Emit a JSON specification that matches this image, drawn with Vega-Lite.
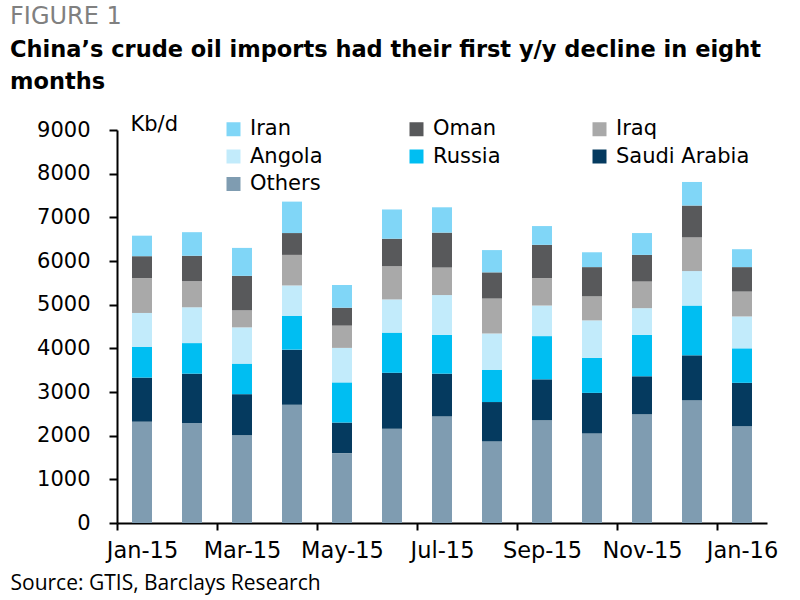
{
  "$schema": "https://vega.github.io/schema/vega-lite/v6.json",
  "width": 650,
  "height": 393,
  "autosize": {"type": "none"},
  "padding": {"left": 117, "top": 130, "right": 33, "bottom": 77},
  "background": "white",
  "config": {"view": {"stroke": null}},
  "title": {
    "text": "FIGURE 1",
    "subtitle": ["China’s crude oil imports had their first y/y decline in eight", "months"],
    "anchor": "start",
    "frame": "group",
    "dx": -107,
    "dy": -10,
    "offset": 10,
    "font": "DejaVu Sans",
    "fontSize": 24,
    "fontWeight": "normal",
    "color": "#808080",
    "subtitleFont": "DejaVu Sans",
    "subtitleFontSize": 22.5,
    "subtitleFontWeight": "bold",
    "subtitleColor": "#000000",
    "subtitleLineHeight": 32,
    "subtitlePadding": 10
  },
  "data": {
    "values": [
      {"month": "Jan-15", "country": "Others", "value": 2320},
      {"month": "Jan-15", "country": "Saudi Arabia", "value": 1010},
      {"month": "Jan-15", "country": "Russia", "value": 700},
      {"month": "Jan-15", "country": "Angola", "value": 780},
      {"month": "Jan-15", "country": "Iraq", "value": 800},
      {"month": "Jan-15", "country": "Oman", "value": 500},
      {"month": "Jan-15", "country": "Iran", "value": 470},
      {"month": "Feb-15", "country": "Others", "value": 2290},
      {"month": "Feb-15", "country": "Saudi Arabia", "value": 1130},
      {"month": "Feb-15", "country": "Russia", "value": 700},
      {"month": "Feb-15", "country": "Angola", "value": 820},
      {"month": "Feb-15", "country": "Iraq", "value": 600},
      {"month": "Feb-15", "country": "Oman", "value": 580},
      {"month": "Feb-15", "country": "Iran", "value": 540},
      {"month": "Mar-15", "country": "Others", "value": 2010},
      {"month": "Mar-15", "country": "Saudi Arabia", "value": 940},
      {"month": "Mar-15", "country": "Russia", "value": 700},
      {"month": "Mar-15", "country": "Angola", "value": 830},
      {"month": "Mar-15", "country": "Iraq", "value": 390},
      {"month": "Mar-15", "country": "Oman", "value": 790},
      {"month": "Mar-15", "country": "Iran", "value": 640},
      {"month": "Apr-15", "country": "Others", "value": 2710},
      {"month": "Apr-15", "country": "Saudi Arabia", "value": 1260},
      {"month": "Apr-15", "country": "Russia", "value": 770},
      {"month": "Apr-15", "country": "Angola", "value": 700},
      {"month": "Apr-15", "country": "Iraq", "value": 700},
      {"month": "Apr-15", "country": "Oman", "value": 500},
      {"month": "Apr-15", "country": "Iran", "value": 720},
      {"month": "May-15", "country": "Others", "value": 1600},
      {"month": "May-15", "country": "Saudi Arabia", "value": 700},
      {"month": "May-15", "country": "Russia", "value": 920},
      {"month": "May-15", "country": "Angola", "value": 790},
      {"month": "May-15", "country": "Iraq", "value": 510},
      {"month": "May-15", "country": "Oman", "value": 410},
      {"month": "May-15", "country": "Iran", "value": 520},
      {"month": "Jun-15", "country": "Others", "value": 2160},
      {"month": "Jun-15", "country": "Saudi Arabia", "value": 1280},
      {"month": "Jun-15", "country": "Russia", "value": 920},
      {"month": "Jun-15", "country": "Angola", "value": 760},
      {"month": "Jun-15", "country": "Iraq", "value": 760},
      {"month": "Jun-15", "country": "Oman", "value": 630},
      {"month": "Jun-15", "country": "Iran", "value": 670},
      {"month": "Jul-15", "country": "Others", "value": 2440},
      {"month": "Jul-15", "country": "Saudi Arabia", "value": 980},
      {"month": "Jul-15", "country": "Russia", "value": 890},
      {"month": "Jul-15", "country": "Angola", "value": 910},
      {"month": "Jul-15", "country": "Iraq", "value": 630},
      {"month": "Jul-15", "country": "Oman", "value": 800},
      {"month": "Jul-15", "country": "Iran", "value": 580},
      {"month": "Aug-15", "country": "Others", "value": 1870},
      {"month": "Aug-15", "country": "Saudi Arabia", "value": 900},
      {"month": "Aug-15", "country": "Russia", "value": 740},
      {"month": "Aug-15", "country": "Angola", "value": 830},
      {"month": "Aug-15", "country": "Iraq", "value": 800},
      {"month": "Aug-15", "country": "Oman", "value": 600},
      {"month": "Aug-15", "country": "Iran", "value": 510},
      {"month": "Sep-15", "country": "Others", "value": 2350},
      {"month": "Sep-15", "country": "Saudi Arabia", "value": 940},
      {"month": "Sep-15", "country": "Russia", "value": 990},
      {"month": "Sep-15", "country": "Angola", "value": 700},
      {"month": "Sep-15", "country": "Iraq", "value": 630},
      {"month": "Sep-15", "country": "Oman", "value": 760},
      {"month": "Sep-15", "country": "Iran", "value": 430},
      {"month": "Oct-15", "country": "Others", "value": 2050},
      {"month": "Oct-15", "country": "Saudi Arabia", "value": 930},
      {"month": "Oct-15", "country": "Russia", "value": 800},
      {"month": "Oct-15", "country": "Angola", "value": 860},
      {"month": "Oct-15", "country": "Iraq", "value": 550},
      {"month": "Oct-15", "country": "Oman", "value": 670},
      {"month": "Oct-15", "country": "Iran", "value": 340},
      {"month": "Nov-15", "country": "Others", "value": 2490},
      {"month": "Nov-15", "country": "Saudi Arabia", "value": 870},
      {"month": "Nov-15", "country": "Russia", "value": 950},
      {"month": "Nov-15", "country": "Angola", "value": 610},
      {"month": "Nov-15", "country": "Iraq", "value": 610},
      {"month": "Nov-15", "country": "Oman", "value": 610},
      {"month": "Nov-15", "country": "Iran", "value": 500},
      {"month": "Dec-15", "country": "Others", "value": 2810},
      {"month": "Dec-15", "country": "Saudi Arabia", "value": 1030},
      {"month": "Dec-15", "country": "Russia", "value": 1140},
      {"month": "Dec-15", "country": "Angola", "value": 790},
      {"month": "Dec-15", "country": "Iraq", "value": 770},
      {"month": "Dec-15", "country": "Oman", "value": 730},
      {"month": "Dec-15", "country": "Iran", "value": 540},
      {"month": "Jan-16", "country": "Others", "value": 2220},
      {"month": "Jan-16", "country": "Saudi Arabia", "value": 990},
      {"month": "Jan-16", "country": "Russia", "value": 790},
      {"month": "Jan-16", "country": "Angola", "value": 730},
      {"month": "Jan-16", "country": "Iraq", "value": 570},
      {"month": "Jan-16", "country": "Oman", "value": 560},
      {"month": "Jan-16", "country": "Iran", "value": 410}
    ]
  },
  "transform": [
    {"calculate": "indexof(['Others','Saudi Arabia','Russia','Angola','Iraq','Oman','Iran'], datum.country)", "as": "stackRank"}
  ],
  "mark": {"type": "bar"},
  "encoding": {
    "x": {
      "field": "month",
      "type": "ordinal",
      "sort": ["Jan-15", "Feb-15", "Mar-15", "Apr-15", "May-15", "Jun-15", "Jul-15", "Aug-15", "Sep-15", "Oct-15", "Nov-15", "Dec-15", "Jan-16"],
      "scale": {"paddingInner": 0.6, "paddingOuter": 0.3},
      "axis": {
        "title": "Source: GTIS, Barclays Research",
        "titleX": -107,
        "titleY": 66,
        "titleAlign": "left",
        "titleAnchor": "start",
        "titleBaseline": "alphabetic",
        "titleFont": "Open Sans",
        "titleFontSize": 21,
        "titleFontWeight": "normal",
        "titleColor": "#000000",
        "values": ["Jan-15", "Mar-15", "May-15", "Jul-15", "Sep-15", "Nov-15", "Jan-16"],
        "tickOffset": -25,
        "labelOffset": 25,
        "labelAngle": 0,
        "labelFont": "DejaVu Sans",
        "labelFontSize": 22.5,
        "labelColor": "#000000",
        "labelPadding": 9,
        "tickSize": 7,
        "tickWidth": 2,
        "tickColor": "#000000",
        "domainColor": "#000000",
        "domainWidth": 2,
        "grid": false
      }
    },
    "y": {
      "field": "value",
      "type": "quantitative",
      "stack": "zero",
      "scale": {"domain": [0, 9000], "nice": false},
      "axis": {
        "title": "Kb/d",
        "titleAngle": 0,
        "titleX": 13,
        "titleY": 0,
        "titleAlign": "left",
        "titleBaseline": "alphabetic",
        "titleFont": "DejaVu Sans",
        "titleFontSize": 21,
        "titleFontWeight": "normal",
        "titleColor": "#000000",
        "values": [0, 1000, 2000, 3000, 4000, 5000, 6000, 7000, 8000, 9000],
        "format": "d",
        "labelFont": "DejaVu Sans",
        "labelFontSize": 21,
        "labelColor": "#000000",
        "labelPadding": 19,
        "tickSize": 8,
        "tickWidth": 2,
        "tickColor": "#000000",
        "domainColor": "#000000",
        "domainWidth": 2,
        "grid": false
      }
    },
    "color": {
      "field": "country",
      "type": "nominal",
      "scale": {
        "domain": ["Iran", "Oman", "Iraq", "Angola", "Russia", "Saudi Arabia", "Others"],
        "range": ["#80d6f7", "#58595b", "#a9a9a9", "#c2ebfb", "#00bef2", "#053a5f", "#7f9cb1"]
      },
      "legend": {
        "orient": "none",
        "direction": "horizontal",
        "legendX": 106,
        "legendY": -11.5,
        "columns": 3,
        "gridAlign": "all",
        "columnPadding": 22,
        "rowPadding": 5.5,
        "title": null,
        "symbolType": "square",
        "symbolSize": 196,
        "symbolStrokeWidth": 0,
        "symbolOpacity": 1,
        "labelFont": "DejaVu Sans",
        "labelFontSize": 21,
        "labelColor": "#000000",
        "labelOffset": 6,
        "labelLimit": 300,
        "padding": 0
      }
    },
    "order": {"field": "stackRank", "type": "quantitative", "sort": "ascending"}
  }
}
